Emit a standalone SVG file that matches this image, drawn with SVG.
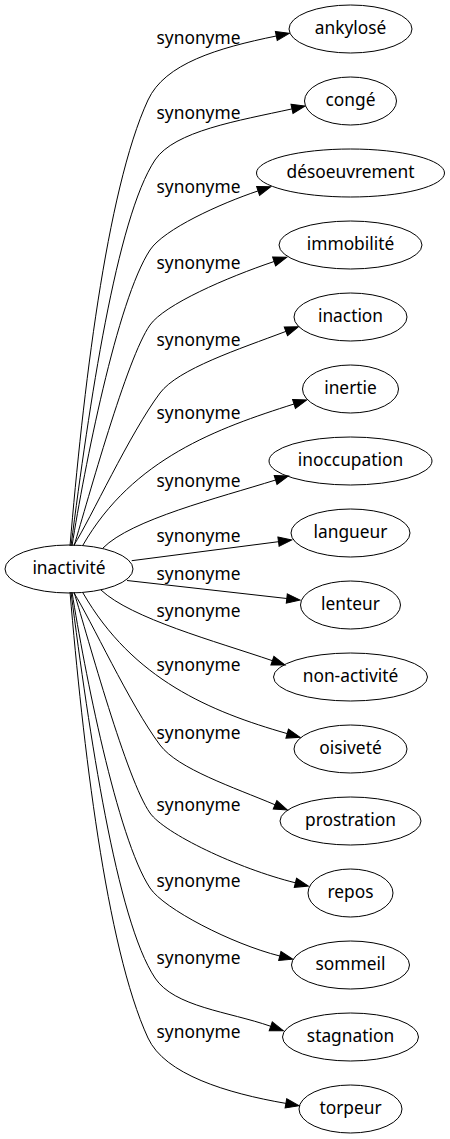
<svg xmlns="http://www.w3.org/2000/svg" width="450" height="1139" viewBox="0 0 450 1139">
<style>
text{font-family:"Noto Sans","Open Sans",sans-serif;font-size:17.33px;fill:#000;text-anchor:middle}
.n ellipse{fill:none;stroke:#000;stroke-width:1}
.e path{fill:none;stroke:#000;stroke-width:1;marker-end:url(#arr)}
</style>
<defs>
<marker id="arr" markerUnits="userSpaceOnUse" orient="auto" refX="0" refY="0" markerWidth="14" markerHeight="10" overflow="visible">
<path d="M0,-4.67 L13.33,0 L0,4.67 Z" fill="#000" stroke="#000" stroke-width="1"/>
</marker>
</defs>
<rect width="450" height="1139" fill="#fff"/>
<g id="edges" class="e">
<g id="e1"><path d="M70,546 C82.7,396 106,191 148,100 C164.8,63.6 217.5,48 276.3,36"/><text x="198.5" y="44">synonyme</text></g>
<g id="e2"><path d="M71,546 C89,406 116.5,218 155,160 C174.3,131 238.3,120.7 292,108.9"/><text x="198.5" y="119">synonyme</text></g>
<g id="e3"><path d="M72,546 C84,470 117,300 150,250 C163.75,229.25 220.2,203.6 258.1,190.9"/><text x="198.5" y="193">synonyme</text></g>
<g id="e4"><path d="M74,546 C88,500 126.8,357.8 150,325 C164.5,304.5 226.7,277.5 274.1,261.5"/><text x="198.5" y="269">synonyme</text></g>
<g id="e5"><path d="M74,545 C90,520 130,433 160,393 C178,369 239.1,349.1 285.9,331.4"/><text x="198.5" y="346">synonyme</text></g>
<g id="e6"><path d="M83,545 C133,458.4 217.8,428.2 294,404"/><text x="198.5" y="419">synonyme</text></g>
<g id="e7"><path d="M103,548 C131,519.6 218.4,497.9 275.6,480"/><text x="198.5" y="487">synonyme</text></g>
<g id="e8"><path d="M131.7,560.7 L278.5,541.7"/><text x="198.5" y="542">synonyme</text></g>
<g id="e9"><path d="M127,580.5 L286.8,598.5"/><text x="198.5" y="580">synonyme</text></g>
<g id="e10"><path d="M101,590 C131,618.4 215.6,641.3 272.4,660.7"/><text x="198.5" y="617">synonyme</text></g>
<g id="e11"><path d="M83,593 C133,679.6 210.3,711.6 287.2,733.6"/><text x="198.5" y="671">synonyme</text></g>
<g id="e12"><path d="M74,593 C90,618 130,705 160,745 C178,769 233.65,787.25 275.05,804.8"/><text x="198.5" y="739">synonyme</text></g>
<g id="e13"><path d="M74,592 C88,638 126.8,780.2 150,813 C164.5,833.5 237.2,868.3 295.4,882.8"/><text x="198.5" y="811">synonyme</text></g>
<g id="e14"><path d="M72,592 C84,668 117,838 150,888 C163.75,908.75 231.3,943.8 279.8,956"/><text x="198.5" y="887">synonyme</text></g>
<g id="e15"><path d="M71,592 C89,732 116.5,920 155,978 C174.3,1007 228.3,1011.5 270.75,1026.3"/><text x="198.5" y="964">synonyme</text></g>
<g id="e16"><path d="M70,592 C82.7,742 106,947 148,1038 C164.8,1074.4 226.8,1093.2 285.9,1103.4"/><text x="198.5" y="1038">synonyme</text></g>
</g>
<g id="n0" class="n"><ellipse cx="69" cy="569" rx="64" ry="24"/><text x="69" y="574">inactivité</text></g>
<g id="n1" class="n"><ellipse cx="350.5" cy="29" rx="61.5" ry="24"/><text x="350.5" y="34">ankylosé</text></g>
<g id="n2" class="n"><ellipse cx="350.5" cy="101" rx="46" ry="24"/><text x="350.5" y="106">congé</text></g>
<g id="n3" class="n"><ellipse cx="350.5" cy="173" rx="94" ry="24"/><text x="350.5" y="178">désoeuvrement</text></g>
<g id="n4" class="n"><ellipse cx="350.5" cy="245" rx="71.5" ry="24"/><text x="350.5" y="250">immobilité</text></g>
<g id="n5" class="n"><ellipse cx="350.5" cy="317" rx="56.5" ry="24"/><text x="350.5" y="322">inaction</text></g>
<g id="n6" class="n"><ellipse cx="350.5" cy="389" rx="48" ry="24"/><text x="350.5" y="394">inertie</text></g>
<g id="n7" class="n"><ellipse cx="350.5" cy="461" rx="81.5" ry="24"/><text x="350.5" y="466">inoccupation</text></g>
<g id="n8" class="n"><ellipse cx="350.5" cy="533" rx="59.5" ry="24"/><text x="350.5" y="538">langueur</text></g>
<g id="n9" class="n"><ellipse cx="350.5" cy="605" rx="50" ry="24"/><text x="350.5" y="610">lenteur</text></g>
<g id="n10" class="n"><ellipse cx="350.5" cy="677" rx="77" ry="24"/><text x="350.5" y="682">non-activité</text></g>
<g id="n11" class="n"><ellipse cx="350.5" cy="749" rx="56.5" ry="24"/><text x="350.5" y="754">oisiveté</text></g>
<g id="n12" class="n"><ellipse cx="350.5" cy="821" rx="70.5" ry="24"/><text x="350.5" y="826">prostration</text></g>
<g id="n13" class="n"><ellipse cx="350.5" cy="893" rx="42.5" ry="24"/><text x="350.5" y="898">repos</text></g>
<g id="n14" class="n"><ellipse cx="350.5" cy="965" rx="59" ry="24"/><text x="350.5" y="970">sommeil</text></g>
<g id="n15" class="n"><ellipse cx="350.5" cy="1037" rx="68" ry="24"/><text x="350.5" y="1042">stagnation</text></g>
<g id="n16" class="n"><ellipse cx="350.5" cy="1109" rx="51.5" ry="24"/><text x="350.5" y="1114">torpeur</text></g>
</svg>
